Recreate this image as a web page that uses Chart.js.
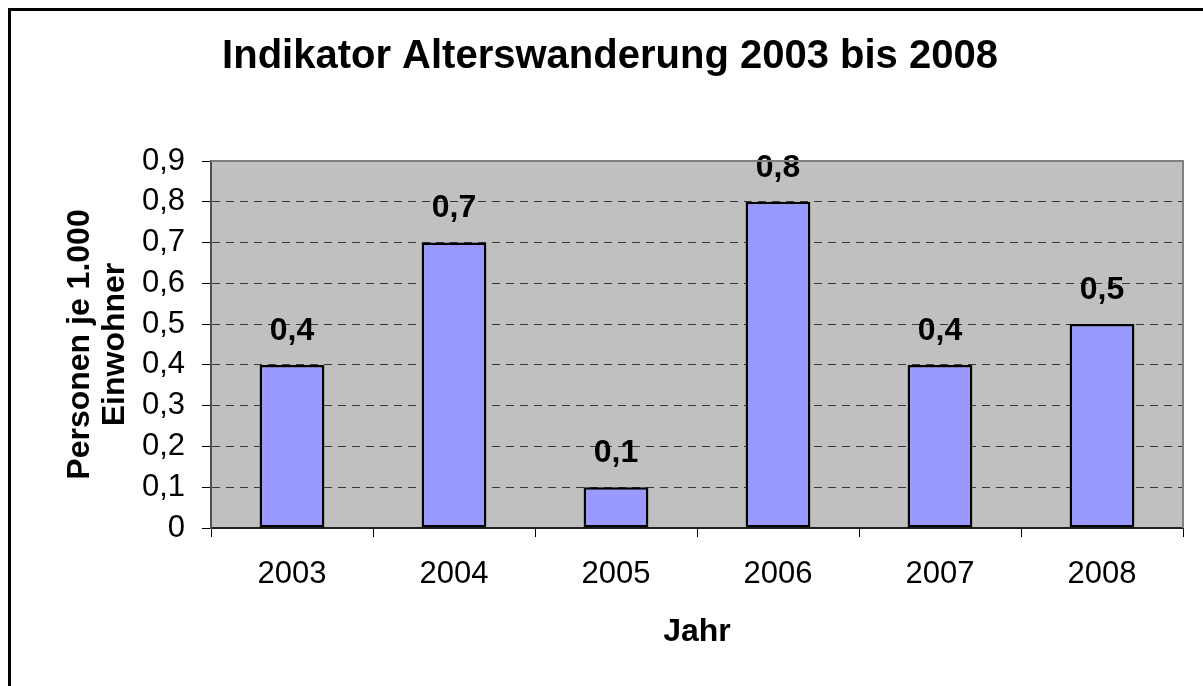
<!DOCTYPE html>
<html>
<head>
<meta charset="utf-8">
<script src="https://cdn.jsdelivr.net/npm/chart.js@4/dist/chart.umd.min.js"></script>
<style>
  html, body { margin: 0; padding: 0; background: #ffffff; }
  #wrap { width: 1203px; height: 686px; }
</style>
</head>
<body>
<div id="wrap"><canvas id="c" width="1203" height="686"></canvas></div>
<script>
const categories = ['2003', '2004', '2005', '2006', '2007', '2008'];
const values = [0.4, 0.7, 0.1, 0.8, 0.4, 0.5];
const titleText = 'Indikator Alterswanderung 2003 bis 2008';
const yTitle = ['Personen je 1.000', 'Einwohner'];
const xTitle = 'Jahr';

const FONT = "'Liberation Sans', Arial, sans-serif";
const fmt = v => (Math.abs(v) < 1e-9 ? '0' : (Math.round(v * 10) / 10).toFixed(1).replace('.', ','));

const bgPlugin = {
  id: 'plotBg',
  beforeDraw(chart) {
    const {ctx, chartArea: a} = chart;
    ctx.save();
    ctx.fillStyle = '#C0C0C0';
    ctx.fillRect(a.left, a.top, a.right - a.left, a.bottom - a.top);
    ctx.restore();
  },
  afterDraw(chart) {
    const {ctx, chartArea: a} = chart;
    ctx.save();
    ctx.strokeStyle = '#808080';
    ctx.lineWidth = 2;
    ctx.beginPath();
    ctx.moveTo(a.left, a.top);
    ctx.lineTo(a.right, a.top);
    ctx.lineTo(a.right, a.bottom);
    ctx.stroke();
    // outer frame
    ctx.strokeStyle = '#000000';
    ctx.lineWidth = 3;
    ctx.strokeRect(9.5, 9.5, 1400, 900);
    ctx.restore();
  }
};

const labelPlugin = {
  id: 'barLabels',
  afterDatasetsDraw(chart) {
    const {ctx} = chart;
    const meta = chart.getDatasetMeta(0);
    ctx.save();
    ctx.font = 'bold 32px ' + FONT;
    ctx.fillStyle = '#000000';
    ctx.textAlign = 'center';
    ctx.textBaseline = 'middle';
    meta.data.forEach((el, i) => {
      ctx.fillText(fmt(chart.data.datasets[0].data[i]), el.x, el.y - 34);
    });
    ctx.restore();
  }
};

new Chart(document.getElementById('c'), {
  type: 'bar',
  data: {
    labels: categories,
    datasets: [{
      data: values,
      backgroundColor: '#9999FF',
      borderColor: '#000000',
      borderWidth: 2.5,
      borderSkipped: false,
      barPercentage: 0.4,
      categoryPercentage: 1.0
    }]
  },
  options: {
    responsive: false,
    animation: false,
    devicePixelRatio: 1,
    layout: { padding: { left: 37, top: 0, right: 20, bottom: 0 } },
    plugins: {
      legend: { display: false },
      tooltip: { enabled: false },
      title: {
        display: true,
        text: titleText,
        color: '#000000',
        font: { family: FONT, size: 40, weight: 'bold', lineHeight: 1.2 },
        padding: { top: 33, bottom: 80 }
      }
    },
    scales: {
      x: {
        offset: true,
        afterFit(s) { s.height = 158; },
        grid: {
          offset: true,
          drawOnChartArea: false,
          drawTicks: true,
          tickLength: 9,
          tickColor: '#000000',
          tickWidth: 1
        },
        border: { display: true, color: '#202020', width: 2 },
        ticks: {
          color: '#000000',
          padding: 19,
          maxRotation: 0,
          font: { family: FONT, size: 31 }
        },
        title: {
          display: true,
          text: xTitle,
          color: '#000000',
          font: { family: FONT, size: 32, weight: 'bold', lineHeight: 1.1 },
          padding: { top: 0, bottom: 36.5 }
        }
      },
      y: {
        min: 0,
        max: 0.9,
        afterFit(s) { s.width = 174; },
        grid: {
          color: c => (c.tick && (Math.abs(c.tick.value) < 1e-9 || Math.abs(c.tick.value - 0.9) < 1e-9)) ? 'rgba(0,0,0,0)' : '#3a3a3a',
          lineWidth: 1,
          drawTicks: true,
          tickLength: 9,
          tickColor: '#000000',
          tickWidth: 1,
          tickBorderDash: []
        },
        border: { display: true, color: '#505050', width: 2, dash: [8, 6] },
        ticks: {
          stepSize: 0.1,
          color: '#000000',
          padding: 17,
          font: { family: FONT, size: 31 },
          callback: v => fmt(v)
        },
        title: {
          display: true,
          text: yTitle,
          color: '#000000',
          font: { family: FONT, size: 32, weight: 'bold', lineHeight: 1.1 },
          padding: { top: 25.4, bottom: 0 }
        }
      }
    }
  },
  plugins: [bgPlugin, labelPlugin]
});
</script>
</body>
</html>
